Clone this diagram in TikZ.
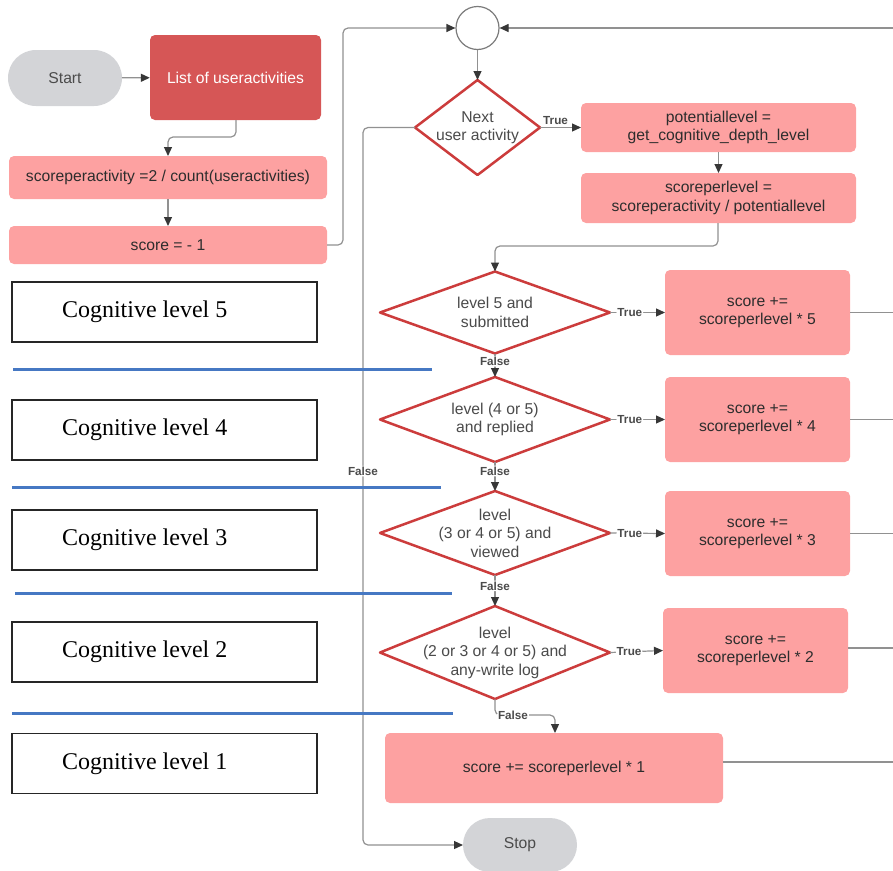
\documentclass[tikz,border=0pt]{standalone}
\usepackage{fontspec}
\setsansfont{Liberation Sans}
\newfontfamily\tnr{Liberation Serif}
\usetikzlibrary{shapes.geometric,shapes.misc,arrows.meta}
\definecolor{pinkc}{RGB}{253,161,161}
\definecolor{darkbox}{RGB}{214,86,86}
\definecolor{diar}{RGB}{204,60,60}
\definecolor{stadc}{RGB}{211,212,215}
\definecolor{linec}{RGB}{145,145,145}
\definecolor{arrc}{RGB}{55,55,55}
\definecolor{txtc}{RGB}{45,45,45}
\definecolor{diatxt}{RGB}{75,75,75}
\definecolor{bluec}{RGB}{70,120,195}
\tikzset{
  basefont/.style={font=\sffamily\fontsize{15.7}{18.5}\selectfont},
  pbox/.style={rectangle, rounded corners=5pt, fill=pinkc, draw=none, text=txtc, align=center, inner sep=0pt, outer sep=0pt, basefont},
  dia/.style={rectangle, draw=none, text=diatxt, align=center, inner sep=0pt, outer sep=0pt, basefont},
  diaedge/.style={draw=diar, line width=2.5pt, fill=white, line join=round},
  stad/.style={rounded rectangle, fill=stadc, draw=none, text=diatxt, inner sep=0pt, outer sep=0pt, minimum width=114pt, minimum height=56pt, basefont},
  cogbox/.style={rectangle, draw=black!85, line width=1.3pt, minimum height=60pt, inner xsep=50pt, inner ysep=0pt, font=\tnr\fontsize{24}{26}\selectfont},
  conn/.style={draw=linec, line width=1.2pt, rounded corners=5pt},
  arr/.style={conn, -{Triangle[length=9pt,width=8pt,color=arrc]}},
  lbl/.style={fill=white, inner sep=1pt, text=diatxt, font=\sffamily\bfseries\fontsize{11.7}{13}\selectfont},
  bline/.style={draw=bluec, line width=3pt}
}
\newcommand{\diashape}[1]{\path[diaedge] (#1.north) -- (#1.east) -- (#1.south) -- (#1.west) -- cycle;}
\newcommand{\cogtext}[1]{\makebox[205pt][l]{#1}}
\begin{document}
\begin{tikzpicture}[x=1pt,y=-1pt]
\useasboundingbox (0,0) rectangle (893,870);
% top flow
\node[stad] (start) at (65,78) {Start};
\node[rectangle, rounded corners=5pt, fill=darkbox, text=white, inner sep=0pt, minimum width=171pt, minimum height=85pt, basefont] (list) at (235.5,77.5) {List of useractivities};
\node[pbox, minimum width=318pt, minimum height=43pt] (spa) at (168,177.5) {scoreperactivity =2 / count(useractivities)};
\node[pbox, minimum width=318pt, minimum height=38pt] (sc) at (168,245) {score = - 1};
\node[circle, draw=linec!85!black, line width=1.2pt, fill=white, minimum size=43pt, inner sep=0pt] (circ) at (477.5,28) {};
% diamonds (anchor boxes; outline drawn below)
\path (477.5,127.5) node[dia, minimum width=125pt, minimum height=95pt] (nxt) {};
\path (495,312.5) node[dia, minimum width=230pt, minimum height=82pt] (d5) {};
\path (495,419.5) node[dia, minimum width=230pt, minimum height=85pt] (d4) {};
\path (495,533) node[dia, minimum width=230pt, minimum height=84pt] (d3) {};
\path (495,652.5) node[dia, minimum width=230pt, minimum height=93pt] (d2) {};
\diashape{nxt}
\diashape{d5}
\diashape{d4}
\diashape{d3}
\diashape{d2}
\node[dia] (tnxt) at (nxt) {Next\\user activity};
\node[dia] (t5) at (d5) {level 5 and\\submitted};
\node[dia] (t4) at (d4) {level (4 or 5)\\and replied};
\node[dia] (t3) at (d3) {level\\(3 or 4 or 5) and\\viewed};
\node[dia] (t2) at (d2) {level\\(2 or 3 or 4 or 5) and\\any-write log};
\node[pbox, minimum width=275pt, minimum height=49pt] (pot) at (718.5,127.5) {potentiallevel =\\get\_cognitive\_depth\_level};
\node[pbox, minimum width=275pt, minimum height=50pt] (spl) at (718.5,198) {scoreperlevel =\\scoreperactivity / potentiallevel};
% result boxes
\node[pbox, minimum width=185pt, minimum height=85pt] (b5) at (757.5,312.5) {score +=\\scoreperlevel * 5};
\node[pbox, minimum width=185pt, minimum height=85pt] (b4) at (757.5,419.5) {score +=\\scoreperlevel * 4};
\node[pbox, minimum width=185pt, minimum height=85pt] (b3) at (757.5,533.5) {score +=\\scoreperlevel * 3};
\node[pbox, minimum width=185pt, minimum height=85pt] (b2) at (755.5,650.5) {score +=\\scoreperlevel * 2};
\node[pbox, minimum width=338pt, minimum height=70pt] (b1) at (554,768) {score += scoreperlevel * 1};
\node[stad, minimum height=54pt] (stop) at (520,845) {Stop};
% cognitive level boxes
\node[cogbox] (c5) at (164.5,312) {\cogtext{Cognitive level 5}};
\node[cogbox] (c4) at (164.5,430) {\cogtext{Cognitive level 4}};
\node[cogbox] (c3) at (164.5,540) {\cogtext{Cognitive level 3}};
\node[cogbox] (c2) at (164.5,652) {\cogtext{Cognitive level 2}};
\node[cogbox] (c1) at (164.5,763.5) {\cogtext{Cognitive level 1}};
% blue separators
\coordinate (l1a) at (13,369); \coordinate (l1b) at (432,369);
\coordinate (l2a) at (12,487); \coordinate (l2b) at (441,487);
\coordinate (l3a) at (15,593); \coordinate (l3b) at (452,593);
\coordinate (l4a) at (12,713); \coordinate (l4b) at (453,713);
% helper coordinates
\coordinate (k1) at (236,137);
\coordinate (k2) at (168,137);
\coordinate (s1) at (343,245);
\coordinate (s2) at (343,28);
\coordinate (m1) at (718,246);
\coordinate (m2) at (495,246);
\coordinate (f1) at (363,127.5);
\coordinate (f2) at (363,845);
\coordinate (g1) at (495,715);
\coordinate (g2) at (555,715);
\coordinate (rtop) at (900,28);
\coordinate (r5) at (900,312.5);
\coordinate (r4) at (900,419.5);
\coordinate (r3) at (900,533.5);
\coordinate (r2) at (900,648);
\coordinate (r1) at (900,762);
% connectors
\draw[arr] (start) -- (list);
\draw[arr] (list.south -| k1) -- (k1) -- (k2) -- (spa.north);
\draw[arr] (spa) -- (sc);
\draw[arr] (sc.east) -- (s1) -- (s2) -- (circ.west);
\draw[arr] (rtop) -- (circ.east);
\draw[arr] (circ) -- (nxt.north);
\draw[arr] (nxt.east) -- node[lbl, above=1pt, pos=0.38]{True} (pot.west);
\draw[arr] (pot) -- (spl);
\draw[arr] (spl.south -| m1) -- (m1) -- (m2) -- (d5.north);
\draw[arr] (nxt.west) -- (f1) -- node[lbl, pos=0.479]{False} (f2) -- (stop.west);
\draw[arr] (d5.east) -- node[lbl, pos=0.36]{True} (b5.west);
\draw[arr] (d4.east) -- node[lbl, pos=0.36]{True} (b4.west);
\draw[arr] (d3.east) -- node[lbl, pos=0.36]{True} (b3.west);
\draw[arr] (d2.east) -- node[lbl, pos=0.36]{True} (b2.west);
\draw[arr] (d5.south) -- node[lbl, pos=0.33]{False} (d4.north);
\draw[arr] (d4.south) -- node[lbl, pos=0.31]{False} (d3.north);
\draw[arr] (d3.south) -- node[lbl, pos=0.35]{False} (d2.north);
\draw[arr] (d2.south) -- (g1) -- node[lbl, pos=0.3]{False} (g2) -- (b1.north -| g2);
\draw[conn] (b5.east) -- (r5);
\draw[conn] (b4.east) -- (r4);
\draw[conn] (b3.east) -- (r3);
\draw[conn] (b2.east |- r2) -- (r2);
\draw[conn] (b1.east |- r1) -- (r1);
\draw[bline] (l1a) -- (l1b);
\draw[bline] (l2a) -- (l2b);
\draw[bline] (l3a) -- (l3b);
\draw[bline] (l4a) -- (l4b);
\end{tikzpicture}
\end{document}
